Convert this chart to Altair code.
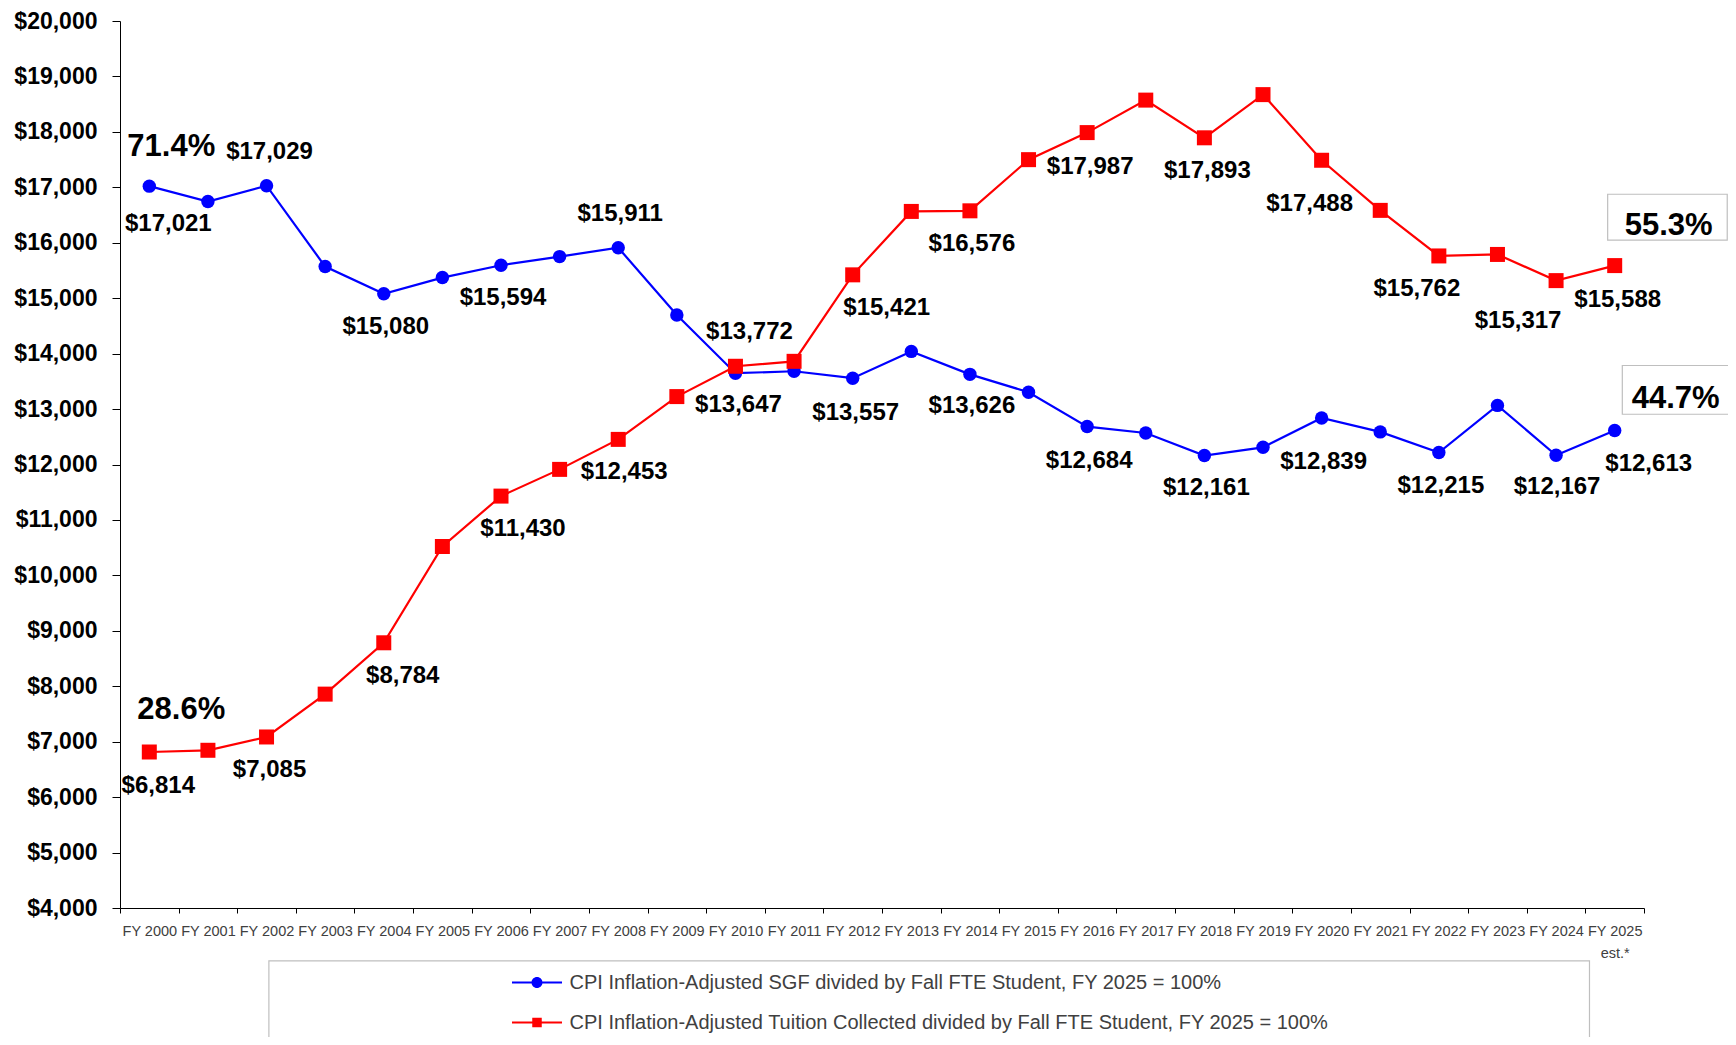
import altair as alt
import pandas as pd

years = ["FY 2000", "FY 2001", "FY 2002", "FY 2003", "FY 2004", "FY 2005", "FY 2006",
         "FY 2007", "FY 2008", "FY 2009", "FY 2010", "FY 2011", "FY 2012", "FY 2013",
         "FY 2014", "FY 2015", "FY 2016", "FY 2017", "FY 2018", "FY 2019", "FY 2020",
         "FY 2021", "FY 2022", "FY 2023", "FY 2024", "FY 2025"]

sgf = [17021, 16744, 17029, 15571, 15080, 15372, 15594, 15750, 15911, 14696, 13647,
       13682, 13557, 14040, 13626, 13304, 12684, 12569, 12161, 12310, 12839, 12588,
       12215, 13066, 12167, 12613]

tuition = [6814, 6845, 7085, 7858, 8784, 10521, 11430, 11912, 12453, 13225, 13772,
           13861, 15421, 16565, 16576, 17499, 17987, 18573, 17893, 18672, 17488, 16584,
           15762, 15789, 15317, 15588]

series_names = ["CPI Inflation-Adjusted SGF divided by Fall FTE Student, FY 2025 = 100%",
                "CPI Inflation-Adjusted Tuition Collected divided by Fall FTE Student, FY 2025 = 100%"]
series_colors = ["#0000FF", "#FF0000"]

y_ticks = [4000, 5000, 6000, 7000, 8000, 9000, 10000, 11000, 12000, 13000, 14000,
           15000, 16000, 17000, 18000, 19000, 20000]

# value labels: year index, dx, dy
sgf_lbl_idx = [0, 2, 4, 6, 8, 10, 12, 14, 16, 18, 20, 22, 24, 25]
sgf_lbl_dx = [19, 3, 2, 2, 2, 3, 3, 2, 2, 2, 2, 2, 1, 34]
sgf_lbl_dy = [38, -34, 33, 33, -34, 32, 35, 32, 34, 32, 44, 33, 32, 33]

tui_lbl_idx = [0, 2, 4, 6, 8, 10, 12, 14, 16, 18, 20, 22, 24, 25]
tui_lbl_dx = [9, 3, 19, 22, 6, 14, 34, 2, 3, 3, -12, -22, -38, 3]
tui_lbl_dy = [34, 33, 33, 33, 33, -34, 33, 33, 34, 33, 44, 33, 40, 34]

# share annotations
pct_text = ["71.4%", "28.6%", "55.3%", "44.7%"]
pct_year = ["FY 2000", "FY 2000", "FY 2025", "FY 2025"]
pct_value = [17021, 6814, 15588, 12613]
pct_dx = [22, 32, 54, 61]
pct_dy = [-39, -42, -40, -32]

# boxes (x in category-index units, y in dollars)
box_x = [24.88, 25.13, 2.04]
box_x2 = [26.92, 27.3, 24.57]
box_y = [16875, 13786, 3048]
box_y2 = [16049, 12906, 1000]

PLOT_W, PLOT_H = 1524, 887
FONT = "Liberation Sans"

df = pd.DataFrame({
    "year": years * 2,
    "value": sgf + tuition,
    "series": [series_names[0]] * len(years) + [series_names[1]] * len(years),
})

x_scale = alt.Scale(type="band", domain=years, paddingInner=0, paddingOuter=0)
y_scale = alt.Scale(domain=[4000, 20000], nice=False, zero=False)

x_axis = alt.Axis(
    title=None, labelAngle=0, tickBand="extent", labelFont=FONT, labelFontSize=14.5,
    labelColor="#404040", tickColor="#000000", domainColor="#000000", tickSize=5,
    labelPadding=11, labelOverlap=False, labelLimit=0, labelLineHeight=22,
    labelExpr="datum.value == 'FY 2025' ? ['FY 2025', 'est.*'] : datum.value",
)
y_axis = alt.Axis(
    title=None, values=y_ticks, format="$,.0f", labelFont=FONT, labelFontWeight="bold",
    labelFontSize=23, labelColor="#000000", tickColor="#000000", domainColor="#000000",
    tickSize=8, labelPadding=15, grid=False,
)

X = alt.X("year:N", scale=x_scale, axis=x_axis)
Y = alt.Y("value:Q", scale=y_scale, axis=y_axis)

layers = []
for i, nm in enumerate(series_names):
    base = alt.Chart(df).transform_filter(alt.datum.series == nm)
    layers.append(base.mark_line(color=series_colors[i], strokeWidth=2.2).encode(x=X, y=Y))
    if i == 0:
        layers.append(base.mark_circle(color=series_colors[i], opacity=1, size=180).encode(x=X, y=Y))
    else:
        layers.append(base.mark_square(color=series_colors[i], opacity=1, size=225).encode(x=X, y=Y))

# legend layer
path_circle = ("M-2,-0.08L-0.3,-0.08L-0.3,0.08L-2,0.08Z "
               "M0.3,-0.08L2,-0.08L2,0.08L0.3,0.08Z "
               "M-0.44,0A0.44,0.44 0 1,1 0.44,0A0.44,0.44 0 1,1 -0.44,0Z")
path_square = ("M-2,-0.08L-0.3,-0.08L-0.3,0.08L-2,0.08Z "
               "M0.3,-0.08L2,-0.08L2,0.08L0.3,0.08Z "
               "M-0.38,-0.38L0.38,-0.38L0.38,0.38L-0.38,0.38Z")
legend = alt.Legend(
    title=None, orient="none", legendX=404.5, legendY=949, direction="vertical",
    labelFont=FONT, labelFontSize=20, labelColor="#404040", labelLimit=0,
    symbolSize=625, symbolOpacity=1, symbolStrokeWidth=0, rowPadding=17,
    labelOffset=20, padding=0,
)
layers.append(
    alt.Chart(df).mark_point(filled=True, opacity=0, size=625).encode(
        x=X, y=Y,
        color=alt.Color("series:N", scale=alt.Scale(domain=series_names, range=series_colors), legend=legend),
        shape=alt.Shape("series:N", scale=alt.Scale(domain=series_names, range=[path_circle, path_square]), legend=legend),
    )
)

# value labels
lbl_rows = []
for idxs, dxs, dys, vals in [(sgf_lbl_idx, sgf_lbl_dx, sgf_lbl_dy, sgf),
                             (tui_lbl_idx, tui_lbl_dx, tui_lbl_dy, tuition)]:
    for k, dx, dy in zip(idxs, dxs, dys):
        lbl_rows.append({"year": years[k], "value": vals[k], "dx": dx, "dy": dy})

text_layers = []
for r in lbl_rows:
    text_layers.append(
        alt.Chart(pd.DataFrame([r])).mark_text(
            font=FONT, fontWeight="bold", fontSize=24, color="#000000",
            dx=r["dx"], dy=r["dy"], align="center", baseline="middle",
        ).encode(x=X, y=Y, text=alt.Text("value:Q", format="$,.0f"))
    )

# boxes overlay (independent quantitative x)
box_df = pd.DataFrame({"bx": box_x, "bx2": box_x2, "by": box_y, "by2": box_y2})
box_layer = alt.Chart(box_df).mark_rect(
    fill="#FFFFFF", stroke="#BFBFBF", strokeWidth=1.2, clip=False
).encode(
    x=alt.X("bx:Q", scale=alt.Scale(domain=[-0.5, 25.5], nice=False, zero=False), axis=None),
    x2="bx2:Q",
    y=alt.Y("by:Q", scale=y_scale, axis=y_axis),
    y2="by2:Q",
)

pct_layers = []
for t, yr, v, dx, dy in zip(pct_text, pct_year, pct_value, pct_dx, pct_dy):
    pct_layers.append(
        alt.Chart(pd.DataFrame({"year": [yr], "value": [v], "t": [t]})).mark_text(
            font=FONT, fontWeight="bold", fontSize=31, color="#000000",
            dx=dx, dy=dy, align="center", baseline="middle",
        ).encode(x=X, y=Y, text="t:N")
    )

main = alt.layer(*layers, *text_layers, *pct_layers)

chart = alt.layer(box_layer, main).resolve_scale(x="independent").properties(
    width=PLOT_W, height=PLOT_H,
    background="#FFFFFF",
    autosize=alt.AutoSizeParams(type="none"),
    padding={"left": 112, "top": 13, "right": 84, "bottom": 129},
).configure_view(strokeWidth=0, stroke="transparent")

chart.save("out.html", embed_options={"renderer": "svg", "actions": False})
